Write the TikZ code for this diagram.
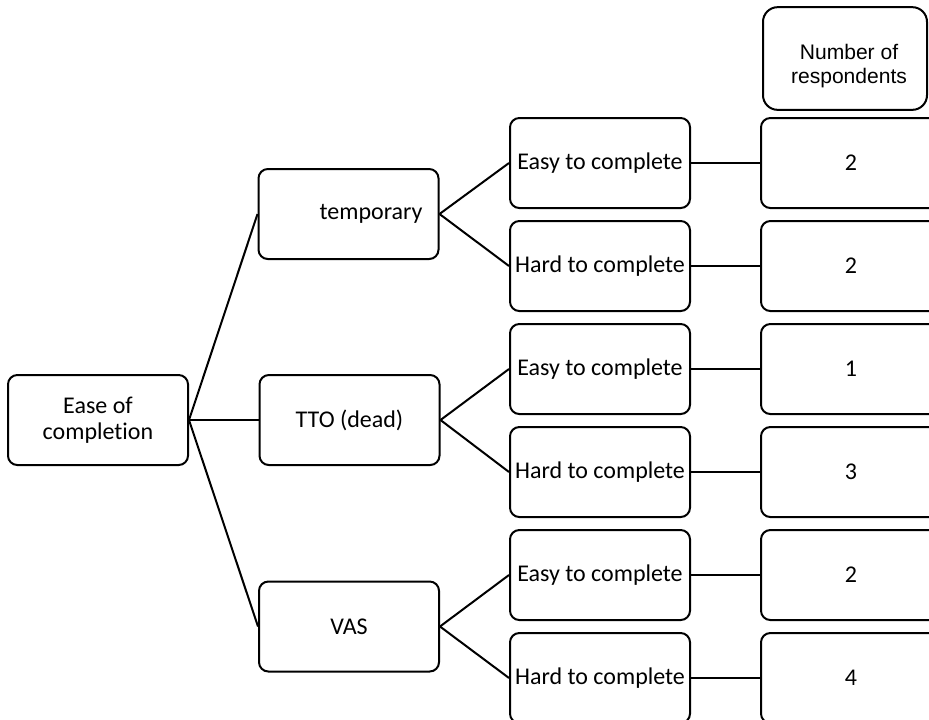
\documentclass[tikz,border=0pt]{standalone}
\usepackage{fontspec}
\setmainfont{Carlito}[Ligatures=NoCommon]
\newfontfamily\arialfont{Liberation Sans}
\begin{document}
\begin{tikzpicture}[x=0.75pt,y=-0.75pt,
  box/.style={draw, line width=1.5pt, rounded corners=7pt, inner sep=0pt,
    minimum width=135pt, minimum height=67.5pt, align=center,
    font=\fontsize{18}{19.5}\selectfont},
  valbox/.style={box},
  link/.style={line width=1.5pt}]
\clip (0,0) rectangle (929,719);

% root
\node[box] (ease) at (98,420) {Ease of\\completion};

% first level
\node[box, text width=111pt, inner xsep=12pt, align=right] (temp) at (348.5,214) {temporary};
\node[box] (tto) at (349.5,420) {TTO (dead)};
\node[box] (vas) at (349,626.5) {VAS};

% second level
\node[box] (e1) at (600,163) {Easy to complete};
\node[box] (h1) at (600,266) {Hard to complete};
\node[box] (e2) at (600,369) {Easy to complete};
\node[box] (h2) at (600,472) {Hard to complete};
\node[box] (e3) at (600,575) {Easy to complete};
\node[box] (h3) at (600,678) {Hard to complete};

% counts
\node[box, rounded corners=11pt, minimum width=123pt, minimum height=77pt,
  label={[font=\arialfont\fontsize{15.8}{18}\selectfont, align=center,
    xshift=3pt, yshift=-5.5pt]center:Number of\\respondents}] (num) at (845,58.5) {};
\node[valbox] (v1) at (851,163) {2};
\node[valbox] (v2) at (851,266) {2};
\node[valbox] (v3) at (851,369) {1};
\node[valbox] (v4) at (851,472) {3};
\node[valbox] (v5) at (851,575) {2};
\node[valbox] (v6) at (851,678) {4};

% connectors
\draw[link] (ease.east) -- (temp.west);
\draw[link] (ease.east) -- (tto.west);
\draw[link] (ease.east) -- (vas.west);
\draw[link] (temp.east) -- (e1.west);
\draw[link] (temp.east) -- (h1.west);
\draw[link] (tto.east) -- (e2.west);
\draw[link] (tto.east) -- (h2.west);
\draw[link] (vas.east) -- (e3.west);
\draw[link] (vas.east) -- (h3.west);
\draw[link] (e1.east) -- (v1.west);
\draw[link] (h1.east) -- (v2.west);
\draw[link] (e2.east) -- (v3.west);
\draw[link] (h2.east) -- (v4.west);
\draw[link] (e3.east) -- (v5.west);
\draw[link] (h3.east) -- (v6.west);
\end{tikzpicture}
\end{document}
